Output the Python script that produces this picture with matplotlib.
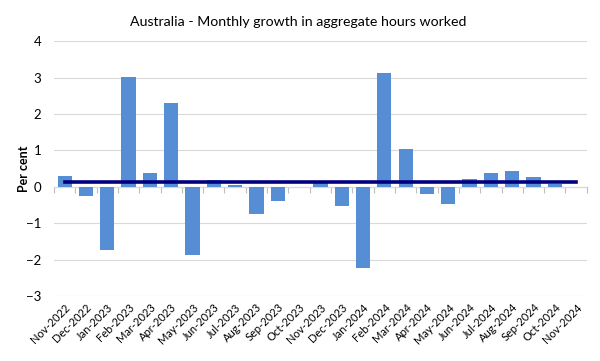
import matplotlib
matplotlib.use('Agg')
import matplotlib.pyplot as plt
import numpy as np

plt.rcParams['font.family'] = ['Lato', 'DejaVu Sans']

# monthly data, Nov-2022 .. Nov-2024
months = ['Nov-2022', 'Dec-2022', 'Jan-2023', 'Feb-2023', 'Mar-2023', 'Apr-2023',
          'May-2023', 'Jun-2023', 'Jul-2023', 'Aug-2023', 'Sep-2023', 'Oct-2023',
          'Nov-2023', 'Dec-2023', 'Jan-2024', 'Feb-2024', 'Mar-2024', 'Apr-2024',
          'May-2024', 'Jun-2024', 'Jul-2024', 'Aug-2024', 'Sep-2024', 'Oct-2024',
          'Nov-2024']
growth = [0.31, -0.26, -1.74, 3.01, 0.37, 2.29, -1.86, 0.19, 0.06, -0.76, -0.39, 0.0,
          0.11, -0.53, -2.24, 3.13, 1.04, -0.19, -0.47, 0.22, 0.39, 0.42, 0.26, 0.07,
          np.nan]
average = 0.13

x = np.arange(len(months))

fig = plt.figure(figsize=(6, 3.61), dpi=100)
ax = fig.add_axes([0.09, 0.18, 0.888, 0.706])

ax.bar(x, growth, width=0.67, color='#558ED5', zorder=2)
ax.plot([x[0], x[-1]], [average, average], color='#00007F', lw=2.6, zorder=3)

ax.set_xlim(-0.5, len(months) - 0.5)
ax.set_ylim(-3, 4)
ax.set_yticks(range(-3, 5))
ax.grid(axis='y', color='#D9D9D9', lw=0.8, zorder=0)
for s in ax.spines.values():
    s.set_visible(False)

ax.set_xticks(x)
ax.set_xticklabels(months, rotation=45, ha='right', rotation_mode='anchor', fontsize=8)
ax.tick_params(axis='x', length=0, pad=4)
ax.tick_params(axis='y', length=0, labelsize=9.5, pad=9)

# zero axis with category tick marks
zero = ax.secondary_xaxis(3 / 7)
zero.set_xticks(np.arange(len(months) + 1) - 0.5)
zero.set_xticklabels([])
zero.tick_params(axis='x', length=4, width=0.8, color='#BFBFBF', direction='out')
zero.spines['bottom'].set_color('#BFBFBF')
zero.spines['bottom'].set_linewidth(0.8)

ax.set_ylabel('Per cent', fontsize=9, fontweight='bold', labelpad=-3)
fig.suptitle('Australia - Monthly growth in aggregate hours worked', fontsize=10.2, y=0.955, x=0.497)

fig.savefig('out.png', dpi=100)
